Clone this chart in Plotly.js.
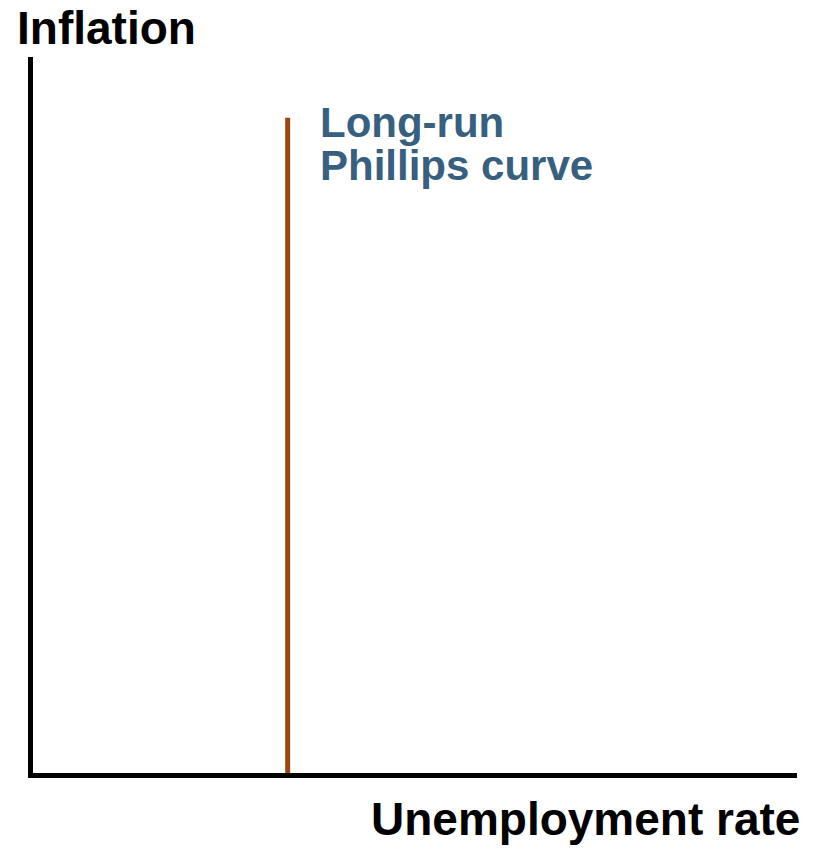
<!DOCTYPE html>
<html>
<head>
<meta charset="utf-8">
<script src="https://cdn.plot.ly/plotly-3.0.1.min.js"></script>
<style>html,body{margin:0;padding:0;background:#fff;}#chart{width:835px;height:849px;}</style>
</head>
<body>
<div id="chart"></div>
<script>
// Data
var lrpcX = [4, 4];            // natural rate of unemployment (vertical LRPC)
var lrpcY = [0, 9.15];         // inflation extent of the curve
var xRange = [0, 12];
var yRange = [0, 10];
var xLabel = "Unemployment rate";
var yLabel = "Inflation";
var curveLabelLines = ["Long-run", "Phillips curve"];

var FONT = "Liberation Sans, Arial, Helvetica, sans-serif";

var traces = [{
  x: lrpcX, y: lrpcY, type: "scatter", mode: "lines",
  line: {color: "#984810", width: 5}, hoverinfo: "skip", showlegend: false
}];

var annotations = [
  {xref: "paper", yref: "paper", x: -0.024, y: 1.04, xanchor: "left", yanchor: "middle",
   text: "<b>" + yLabel + "</b>", showarrow: false, font: {family: FONT, size: 46, color: "#000"}},
  {xref: "paper", yref: "paper", x: 1.006, y: -0.064, xanchor: "right", yanchor: "middle",
   text: "<b>" + xLabel + "</b>", showarrow: false, font: {family: FONT, size: 46, color: "#000"}},
  {xref: "x", yref: "paper", x: 4.48, y: (773 - 122) / 716, xanchor: "left", yanchor: "middle",
   text: "<b>" + curveLabelLines[0] + "</b>", showarrow: false, font: {family: FONT, size: 42, color: "#376080"}},
  {xref: "x", yref: "paper", x: 4.48, y: (773 - 165) / 716, xanchor: "left", yanchor: "middle",
   text: "<b>" + curveLabelLines[1] + "</b>", showarrow: false, font: {family: FONT, size: 42, color: "#376080"}}
];

var layout = {
  width: 835, height: 849,
  margin: {l: 33, r: 38, t: 57, b: 76, pad: 0},
  paper_bgcolor: "#fff", plot_bgcolor: "#fff",
  showlegend: false,
  xaxis: {range: xRange, showline: true, linewidth: 5, linecolor: "#000", showgrid: false,
          zeroline: false, showticklabels: false, ticks: "", fixedrange: true},
  yaxis: {range: yRange, showline: true, linewidth: 5, linecolor: "#000", showgrid: false,
          zeroline: false, showticklabels: false, ticks: "", fixedrange: true},
  annotations: annotations
};

Plotly.newPlot("chart", traces, layout, {staticPlot: true, displayModeBar: false});
</script>
</body>
</html>
